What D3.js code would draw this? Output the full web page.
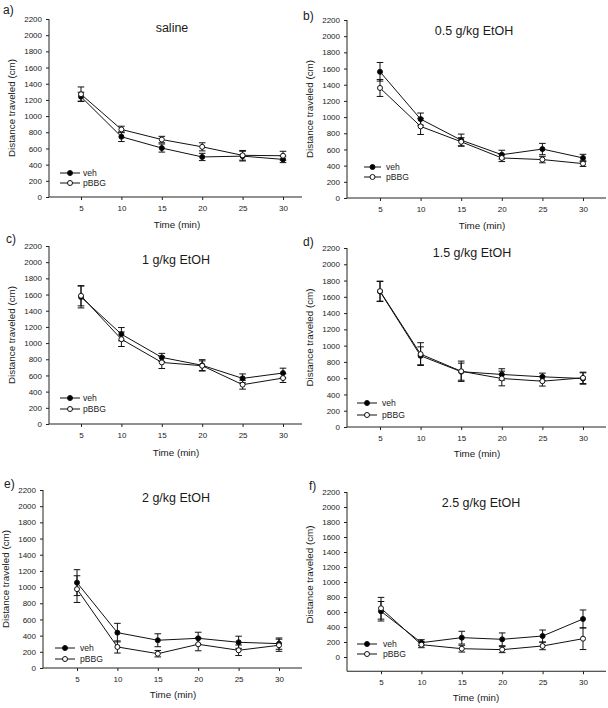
<!DOCTYPE html>
<html><head><meta charset="utf-8">
<script src="https://cdn.jsdelivr.net/npm/d3@7"></script>
<style>body{margin:0;background:#fff}svg{display:block}text{font-family:"Liberation Sans",Arial,sans-serif;fill:#1a1a1a}</style>
</head><body>
<svg id="c" width="608" height="708"></svg>
<script>
const times = [5, 10, 15, 20, 25, 30];
const yTicks = [0, 200, 400, 600, 800, 1000, 1200, 1400, 1600, 1800, 2000, 2200];
const panelLabels = ["a)", "b)", "c)", "d)", "e)", "f)"];
const titles = ["saline", "0.5 g/kg EtOH", "1 g/kg EtOH", "1.5 g/kg EtOH", "2 g/kg EtOH", "2.5 g/kg EtOH"];
const seriesNames = ["veh", "pBBG"];
const yMins = [0, 0, 0, 0, 0, -190];

const vehMean = [
  [1240, 745, 605, 495, 505, 465],
  [1560, 975, 715, 535, 605, 495],
  [1570, 1110, 823, 725, 564, 630],
  [1665, 875, 680, 646, 617, 596],
  [1055, 437, 343, 367, 318, 301],
  [610, 191, 258, 236, 280, 507]
];
const vehErr = [
  [55, 60, 50, 45, 60, 40],
  [115, 75, 75, 55, 70, 45],
  [135, 82, 50, 70, 55, 60],
  [123, 110, 105, 70, 45, 70],
  [160, 115, 80, 75, 75, 70],
  [130, 40, 85, 85, 80, 120]
];
const pbbgMean = [
  [1270, 835, 710, 620, 515, 510],
  [1360, 885, 695, 495, 475, 425],
  [1585, 1048, 761, 720, 486, 568],
  [1670, 896, 685, 596, 563, 604],
  [975, 260, 177, 293, 219, 281],
  [650, 164, 111, 98, 147, 244]
];
const pbbgErr = [
  [90, 40, 40, 50, 60, 55],
  [105, 100, 50, 45, 40, 35],
  [125, 90, 75, 60, 55, 55],
  [123, 140, 125, 90, 60, 70],
  [165, 75, 40, 80, 65, 75],
  [145, 40, 45, 40, 50, 145]
];

// layout (pixel geometry of each panel)
const layout = [
  {left:49, right:302, x5:81, x30:283, y0:197, yTop:19, lab:[3,14], title:[172,32], xl:[177,228], leg:[60,80,83,173,183]},
  {left:347, right:606, x5:380, x30:583, y0:198, yTop:20, lab:[303,20], title:[474,35], xl:[482,229], leg:[364,381,386,167,177]},
  {left:49, right:302, x5:81, x30:283, y0:424, yTop:246, lab:[6,243], title:[176,264], xl:[176,456], leg:[60,80,83,398,409]},
  {left:347, right:606, x5:380, x30:583, y0:427, yTop:248, lab:[303,246], title:[472,257], xl:[477,457], leg:[357,377,382,403,415]},
  {left:43, right:302, x5:77, x30:279, y0:668, yTop:490, lab:[4,488], title:[176,502], xl:[173,698], leg:[55,75,80,648,659]},
  {left:347, right:606, x5:381, x30:583, y0:657, yTop:492, lab:[309,490], title:[481,507], xl:[476,701], leg:[357,377,383,644,654]}
];

const svg = d3.select("#c");
const R = 2.5, CAP = 3.3;
const FONT = '"Liberation Sans",Arial,sans-serif';

layout.forEach((L, i) => {
  const g = svg.append("g");
  const x = d3.scaleLinear().domain([5, 30]).range([L.x5, L.x30]);
  const y = d3.scaleLinear().domain([0, 2200]).range([L.y0, L.yTop]);
  const yBottom = y(yMins[i]);

  // y axis
  const ya = g.append("g").attr("transform", `translate(${L.left},0)`)
    .call(d3.axisLeft(y).tickValues(yTicks).tickFormat(d3.format("d")).tickSize(3).tickPadding(4).tickSizeOuter(0));
  ya.select(".domain").remove();
  ya.selectAll("text").style("font-size", "8px").style("font-family", FONT).attr("fill", "#1a1a1a");
  ya.selectAll("line").attr("stroke", "#222");
  g.append("line").attr("x1", L.left).attr("x2", L.left).attr("y1", yBottom).attr("y2", L.yTop).attr("stroke", "#222");

  // x axis
  const xa = g.append("g").attr("transform", `translate(0,${yBottom})`)
    .call(d3.axisBottom(x).tickValues(times).tickFormat(d3.format("d")).tickSize(3).tickPadding(5).tickSizeOuter(0));
  xa.select(".domain").remove();
  xa.selectAll("text").style("font-size", "8px").style("font-family", FONT).attr("fill", "#1a1a1a");
  xa.selectAll("line").attr("stroke", "#222");
  g.append("line").attr("x1", L.left).attr("x2", L.right).attr("y1", yBottom).attr("y2", yBottom).attr("stroke", "#222");

  // labels
  g.append("text").attr("x", L.lab[0]).attr("y", L.lab[1]).style("font-size", "12px").text(panelLabels[i]);
  g.append("text").attr("x", L.title[0]).attr("y", L.title[1]).attr("text-anchor", "middle").style("font-size", "12.5px").text(titles[i]);
  g.append("text").attr("x", L.xl[0]).attr("y", L.xl[1]).attr("text-anchor", "middle").style("font-size", "9.8px").text("Time (min)");
  g.append("text").attr("transform", `translate(${L.left - 34},${(L.y0 + L.yTop) / 2}) rotate(-90)`)
    .attr("text-anchor", "middle").style("font-size", "9.8px").text("Distance traveled (cm)");

  const series = [
    {m: vehMean[i], e: vehErr[i], fill: "#000"},
    {m: pbbgMean[i], e: pbbgErr[i], fill: "#fff"}
  ];
  const line = d3.line().x((d, j) => x(times[j])).y(d => y(d));
  series.forEach(s => {
    g.append("path").attr("d", line(s.m)).attr("fill", "none").attr("stroke", "#111").attr("stroke-width", 1);
  });
  series.forEach(s => {
    s.m.forEach((v, j) => {
      const cx = x(times[j]);
      const t = y(v + s.e[j]), b = y(v - s.e[j]);
      g.append("line").attr("x1", cx).attr("x2", cx).attr("y1", t).attr("y2", b).attr("stroke", "#111");
      g.append("line").attr("x1", cx - CAP).attr("x2", cx + CAP).attr("y1", t).attr("y2", t).attr("stroke", "#111");
      g.append("line").attr("x1", cx - CAP).attr("x2", cx + CAP).attr("y1", b).attr("y2", b).attr("stroke", "#111");
    });
  });
  series.forEach(s => {
    g.selectAll(null).data(s.m).enter().append("circle")
      .attr("cx", (d, j) => x(times[j])).attr("cy", d => y(d)).attr("r", R)
      .attr("fill", s.fill).attr("stroke", "#111").attr("stroke-width", 1);
  });

  // legend
  const [lx1, lx2, tx, r1, r2] = L.leg;
  [r1, r2].forEach((ry, k) => {
    g.append("line").attr("x1", lx1).attr("x2", lx2).attr("y1", ry).attr("y2", ry).attr("stroke", "#111");
    g.append("circle").attr("cx", (lx1 + lx2) / 2).attr("cy", ry).attr("r", R)
      .attr("fill", series[k].fill).attr("stroke", "#111");
    g.append("text").attr("x", tx).attr("y", ry).attr("dy", "0.35em").style("font-size", "8.6px").text(seriesNames[k]);
  });
});
</script>
</body></html>
